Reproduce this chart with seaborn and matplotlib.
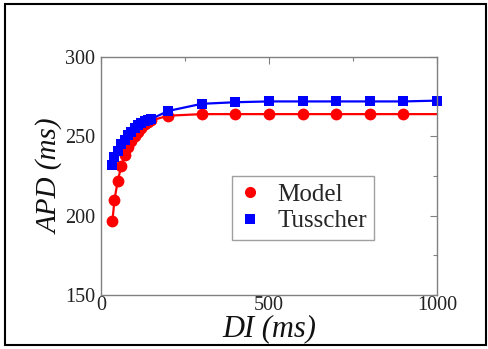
import matplotlib
matplotlib.use("Agg")
import matplotlib.pyplot as plt
import seaborn as sns
import pandas as pd
from matplotlib.lines import Line2D
from matplotlib.patches import Rectangle
from matplotlib.ticker import MultipleLocator

di = [34, 40, 50, 60, 70, 80, 90, 100, 110, 120, 130, 140, 150, 200, 300, 400, 500, 600, 700, 800, 900, 1000]
model_apd = [196.5, 210, 222, 231, 238, 243, 247, 250.5, 253, 255.5, 257.5, 259, 260, 263, 264, 264, 264, 264, 264, 264, 264, 264]
tusscher_apd = [232, 237, 241, 245, 248, 251, 253, 255, 257, 258.5, 259.5, 260.5, 261, 266, 270.5, 271.5, 272, 272, 272, 272, 272, 272.5]
series_names = ["Model", "Tusscher"]
xticks = [0, 500, 1000]
yticks = [150, 200, 250, 300]

sns.set_theme(style="white")
plt.rcParams["font.family"] = ["Liberation Serif", "DejaVu Serif"]

fig = plt.figure(figsize=(4.88, 3.49), dpi=100)
ax = fig.add_axes([101/488, 54/349, 336/488, 238/349])

df_m = pd.DataFrame({"DI": di, "APD": model_apd})
df_t = pd.DataFrame({"DI": di, "APD": tusscher_apd})

sns.lineplot(data=df_m, x="DI", y="APD", ax=ax, color="#ff0000", marker="o",
             markersize=8.5, markeredgewidth=0, linewidth=1.6,
             markevery=list(range(len(di) - 1)), clip_on=False)
sns.lineplot(data=df_t, x="DI", y="APD", ax=ax, color="#0000ff", marker="s",
             markersize=7, markeredgewidth=0, linewidth=1.6, clip_on=False)

ax.set_xlim(0, 1000)
ax.set_ylim(150, 300)
ax.set_xticks(xticks)
ax.set_yticks(yticks)
ax.xaxis.set_minor_locator(MultipleLocator(250))
ax.yaxis.set_minor_locator(MultipleLocator(25))
ax.tick_params(which="both", direction="in", top=True, right=True,
               color="#808080", labelsize=14.5, labelcolor="#222222")
ax.tick_params(which="major", length=5, width=0.8)
ax.tick_params(which="minor", length=3, width=0.8)
ax.tick_params(axis="y", pad=4)
ax.tick_params(axis="x", pad=1)
for s in ax.spines.values():
    s.set_color("#808080")
    s.set_linewidth(1.0)

ax.set_xlabel("DI (ms)", fontsize=22, style="italic", labelpad=-1, color="#111111")
ax.set_ylabel("APD (ms)", fontsize=21, style="italic", labelpad=1, color="#111111")

handles = [
    Line2D([], [], color="#ff0000", marker="o", linestyle="none", markersize=8, markeredgewidth=0),
    Line2D([], [], color="#0000ff", marker="s", linestyle="none", markersize=6.5, markeredgewidth=0),
]
leg = ax.legend(handles, series_names, loc="upper left", bbox_to_anchor=(0.39, 0.5),
                borderaxespad=0, fontsize=18, frameon=True, fancybox=False,
                handlelength=0.8, handletextpad=0.7, borderpad=0.3, labelspacing=0.15)
leg.get_frame().set_edgecolor("#888888")
leg.get_frame().set_linewidth(1.0)

fig.patches.append(Rectangle((5/488, 4/349), 481/488, 341/349, transform=fig.transFigure,
                             fill=False, edgecolor="black", linewidth=1.5))

fig.savefig("out.png", dpi=100)
